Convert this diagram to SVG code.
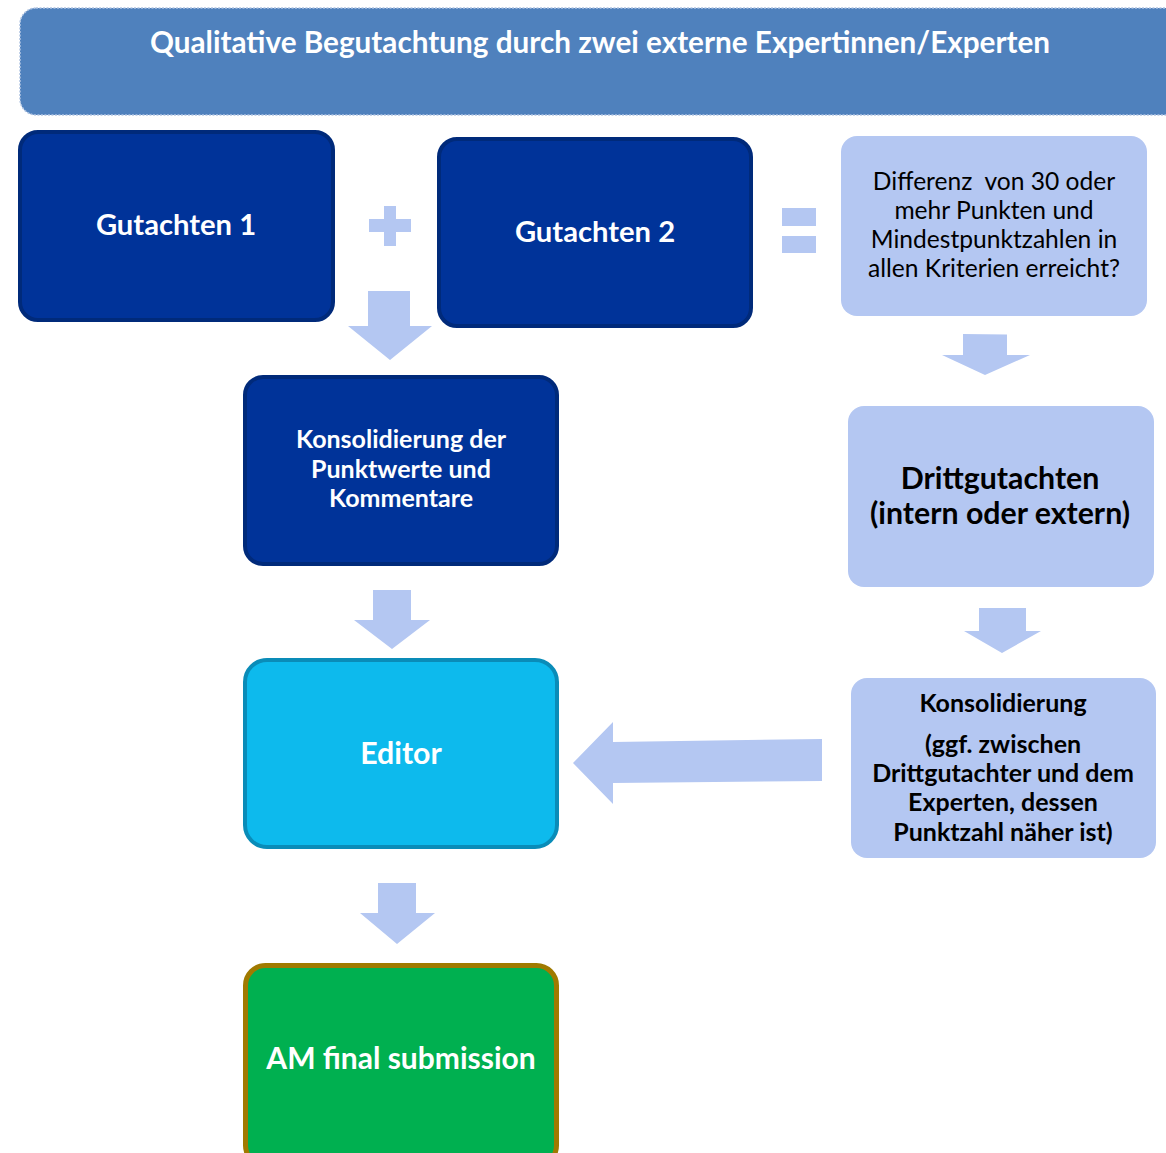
<svg xmlns="http://www.w3.org/2000/svg" width="1166" height="1153" viewBox="0 0 1166 1153">
<style>
.t{font-family:Lato,"Open Sans","Liberation Sans",sans-serif;font-weight:bold;text-anchor:middle}
.w{fill:#ffffff}
.k{fill:#000000}
.r{font-weight:normal}
.dark{fill:#003399;stroke:#002a7a;stroke-width:4}
.light{fill:#b4c7f2}
.arr{fill:#b4c7f2}
</style>
<rect width="1166" height="1153" fill="#ffffff"/>
<g id="banner">
<rect x="20" y="8" width="1170" height="107" rx="16" fill="#4f81bd" stroke="#b0c4e2" stroke-width="1.5" stroke-dasharray="2 1.5"/>
<text class="t w" x="600" y="53" font-size="29.7">Qualitative Begutachtung durch zwei externe Expertinnen/Experten</text>
</g>
<g id="gutachten1">
<rect class="dark" x="20" y="132" width="313" height="188" rx="18"/>
<text class="t w" x="176" y="235" font-size="29.2">Gutachten 1</text>
</g>
<g id="gutachten2">
<rect class="dark" x="439" y="139" width="312" height="187" rx="18"/>
<text class="t w" x="595" y="242" font-size="29.2">Gutachten 2</text>
</g>
<g id="differenz">
<rect class="light" x="841" y="136" width="306" height="180" rx="16"/>
<text class="t k r" font-size="24.6"><tspan x="994" y="190" style="white-space:pre">Differenz  von 30 oder</tspan><tspan x="994" y="219">mehr Punkten und</tspan><tspan x="994" y="248">Mindestpunktzahlen in</tspan><tspan x="994" y="277">allen Kriterien erreicht?</tspan></text>
</g>
<g id="konsolidierung1">
<rect class="dark" x="245" y="377" width="312" height="187" rx="18"/>
<text class="t w" font-size="25"><tspan x="401" y="448">Konsolidierung der</tspan><tspan x="401" y="478">Punktwerte und</tspan><tspan x="401" y="507">Kommentare</tspan></text>
</g>
<g id="drittgutachten">
<rect class="light" x="848" y="406" width="306" height="181" rx="16"/>
<text class="t k" font-size="30.3"><tspan x="1000" y="489">Drittgutachten</tspan><tspan x="1000" y="524">(intern oder extern)</tspan></text>
</g>
<g id="editor">
<rect x="245" y="660" width="312" height="187" rx="22" fill="#0dbaed" stroke="#0a8cb8" stroke-width="4"/>
<text class="t w" x="401" y="764" font-size="30.3">Editor</text>
</g>
<g id="konsolidierung2">
<rect class="light" x="851" y="678" width="305" height="180" rx="16"/>
<text class="t k" font-size="25"><tspan x="1003" y="712">Konsolidierung</tspan><tspan x="1003" y="753">(ggf. zwischen</tspan><tspan x="1003" y="782">Drittgutachter und dem</tspan><tspan x="1003" y="811">Experten, dessen</tspan><tspan x="1003" y="841">Punktzahl näher ist)</tspan></text>
</g>
<g id="final">
<rect x="245.5" y="965.5" width="311" height="200" rx="20" fill="#00b050" stroke="#a07a00" stroke-width="5"/>
<text class="t w" x="401" y="1069" font-size="30">AM final submission</text>
</g>
<g id="connectors">
<path class="arr" d="M369 219h15v-13h12v13h15v13h-15v14h-12v-14h-15z"/>
<rect class="arr" x="782" y="208" width="34" height="18"/>
<rect class="arr" x="782" y="236" width="34" height="17"/>
<path class="arr" d="M368 291h42v35h22l-42 34l-42-34h20z"/>
<path class="arr" d="M963 334l44 0.5v20.5h23l-45 20l-43-20h21z"/>
<path class="arr" d="M373 590h38v30h19l-38 29l-38-29h19z"/>
<path class="arr" d="M979 608h47v23h15l-39 22l-38-22h15z"/>
<path class="arr" d="M378 883h38v30h19l-38 31l-37-31h18z"/>
<path class="arr" d="M822 739v42l-209 2v21l-40-41l40-41v20z"/>
</g>
</svg>
